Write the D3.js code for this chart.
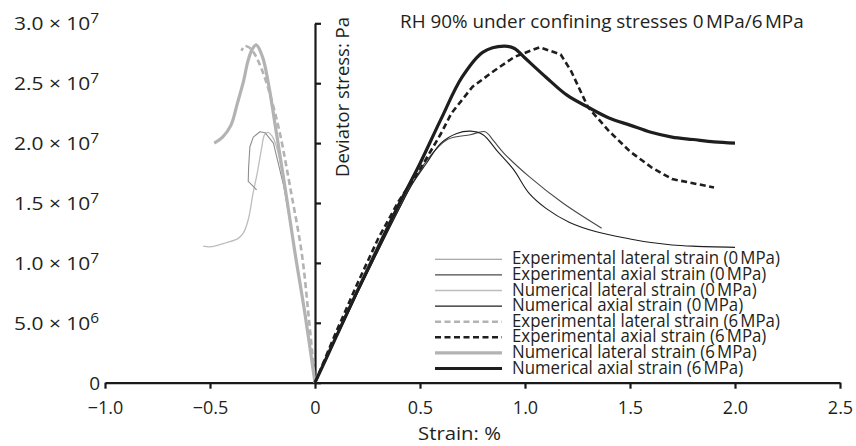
<!DOCTYPE html>
<html><head><meta charset="utf-8">
<script src="https://cdn.jsdelivr.net/npm/d3@7"></script>
<style>
body{margin:0;background:#fff}
svg{display:block}
text{font-family:"Open Sans",sans-serif;fill:#231f20}
</style>
</head><body>
<svg id="chart" width="856" height="446"></svg>
<script>
// ---------------- data ----------------
const titleText = "RH 90% under confining stresses 0\u202FMPa/6\u202FMPa";
const xAxisTitle = "Strain: %";
const yAxisTitle = "Deviator stress: Pa";

const xTickValues = [-1, -0.5, 0, 0.5, 1, 1.5, 2, 2.5];
const xTickLabels = ["\u22121.0", "\u22120.5", "0", "0.5", "1.0", "1.5", "2.0", "2.5"];
const yTickValues = [0, 5e6, 1e7, 1.5e7, 2e7, 2.5e7, 3e7];
const yTickMantissa = ["0", "5.0", "1.0", "1.5", "2.0", "2.5", "3.0"];
const yTickExponent = ["", "6", "7", "7", "7", "7", "7"];

const seriesNames = [
  "Experimental lateral strain (0\u202FMPa)",
  "Experimental axial strain (0\u202FMPa)",
  "Numerical lateral strain (0\u202FMPa)",
  "Numerical axial strain (0\u202FMPa)",
  "Experimental lateral strain (6\u202FMPa)",
  "Experimental axial strain (6\u202FMPa)",
  "Numerical lateral strain (6\u202FMPa)",
  "Numerical axial strain (6\u202FMPa)"
];

// strain in %, deviator stress in Pa
const expLat0Strain = [0, -0.05, -0.095, -0.15, -0.198, -0.238, -0.262, -0.294, -0.31, -0.316, -0.318, -0.3, -0.278];
const expLat0Stress = [0, 0.62e7, 1.1e7, 1.65e7, 2.0e7, 2.087e7, 2.095e7, 2.05e7, 1.97e7, 1.8e7, 1.68e7, 1.65e7, 1.61e7];

const expAx0Strain = [0, 0.1, 0.2, 0.3, 0.4, 0.46, 0.53, 0.63, 0.74, 0.81, 0.85, 0.9, 1.02, 1.18, 1.365];
const expAx0Stress = [0, 0.37e7, 0.74e7, 1.1e7, 1.45e7, 1.65e7, 1.85e7, 2.03e7, 2.07e7, 2.095e7, 2.02e7, 1.915e7, 1.72e7, 1.5e7, 1.29e7];

const numLat0Strain = [0, -0.05, -0.095, -0.14, -0.18, -0.205, -0.225, -0.24, -0.255, -0.275, -0.294, -0.318, -0.341, -0.365, -0.42, -0.492, -0.533];
const numLat0Stress = [0, 0.6e7, 1.08e7, 1.58e7, 1.95e7, 2.06e7, 2.09e7, 2.07e7, 1.95e7, 1.75e7, 1.59e7, 1.36e7, 1.25e7, 1.205e7, 1.17e7, 1.135e7, 1.14e7];

const numAx0Strain = [0, 0.1, 0.2, 0.3, 0.4, 0.46, 0.53, 0.6, 0.675, 0.74, 0.8, 0.865, 0.945, 1.02, 1.1, 1.21, 1.34, 1.5, 1.6, 1.7, 1.8, 2.0];
const numAx0Stress = [0, 0.37e7, 0.74e7, 1.1e7, 1.45e7, 1.65e7, 1.83e7, 2.0e7, 2.08e7, 2.1e7, 2.07e7, 1.94e7, 1.78e7, 1.58e7, 1.455e7, 1.34e7, 1.26e7, 1.2e7, 1.17e7, 1.15e7, 1.14e7, 1.13e7];

const expLat6Strain = [0, -0.03, -0.063, -0.115, -0.167, -0.21, -0.25, -0.29, -0.315, -0.335, -0.35];
const expLat6Stress = [0, 0.55e7, 1.08e7, 1.6e7, 2.08e7, 2.38e7, 2.6e7, 2.75e7, 2.8e7, 2.81e7, 2.77e7];

const expAx6Strain = [0, 0.1, 0.2, 0.3, 0.4, 0.5, 0.6, 0.65, 0.75, 0.85, 0.95, 1.07, 1.17, 1.22, 1.3, 1.4, 1.5, 1.6, 1.7, 1.9];
const expAx6Stress = [0, 0.42e7, 0.82e7, 1.2e7, 1.52e7, 1.78e7, 2.08e7, 2.25e7, 2.47e7, 2.6e7, 2.72e7, 2.8e7, 2.74e7, 2.6e7, 2.3e7, 2.1e7, 1.93e7, 1.8e7, 1.7e7, 1.63e7];

const numLat6Strain = [0, -0.05, -0.095, -0.14, -0.187, -0.22, -0.25, -0.28, -0.3, -0.32, -0.34, -0.37, -0.4, -0.44, -0.48];
const numLat6Stress = [0, 0.6e7, 1.08e7, 1.6e7, 2.12e7, 2.48e7, 2.72e7, 2.82e7, 2.78e7, 2.68e7, 2.52e7, 2.33e7, 2.15e7, 2.05e7, 2.0e7];

const numAx6Strain = [0, 0.1, 0.2, 0.3, 0.4, 0.5, 0.6, 0.7, 0.8, 0.9, 0.95, 1.0, 1.1, 1.2, 1.3, 1.4, 1.5, 1.6, 1.7, 1.8, 1.9, 2.0];
const numAx6Stress = [0, 0.38e7, 0.76e7, 1.13e7, 1.49e7, 1.83e7, 2.2e7, 2.55e7, 2.76e7, 2.81e7, 2.79e7, 2.71e7, 2.55e7, 2.4e7, 2.3e7, 2.21e7, 2.15e7, 2.09e7, 2.05e7, 2.03e7, 2.01e7, 2.0e7];

const seriesStrain = [expLat0Strain, expAx0Strain, numLat0Strain, numAx0Strain, expLat6Strain, expAx6Strain, numLat6Strain, numAx6Strain];
const seriesStress = [expLat0Stress, expAx0Stress, numLat0Stress, numAx0Stress, expLat6Stress, expAx6Stress, numLat6Stress, numAx6Stress];

// ---------------- styles ----------------
const styles = [
  {color: "#8e8e8e", width: 1.1, dash: null, smooth: false},
  {color: "#4a4a4a", width: 1.1, dash: null, smooth: true},
  {color: "#bdbdbd", width: 1.3, dash: null, smooth: true},
  {color: "#1e1e1e", width: 1.1, dash: null, smooth: true},
  {color: "#b3b3b3", width: 2.6, dash: "6,3.5", smooth: true},
  {color: "#1e1e1e", width: 2.6, dash: "6,3.5", smooth: false},
  {color: "#b3b3b3", width: 3.2, dash: null, smooth: true},
  {color: "#1e1e1e", width: 3.2, dash: null, smooth: true}
];
const drawOrder = [2, 0, 6, 4, 1, 3, 5, 7];

// ---------------- chart ----------------
const svg = d3.select("#chart");
const x = d3.scaleLinear().domain([-1, 2.5]).range([105, 840]);
const y = d3.scaleLinear().domain([0, 3e7]).range([382.7, 23.3]);
const FS = 18;

// x axis
const xAxis = d3.axisBottom(x).tickValues(xTickValues).tickSize(6).tickSizeOuter(0)
  .tickPadding(13).tickFormat((d, i) => xTickLabels[i]);
const gx = svg.append("g").attr("transform", `translate(0,${y(0)})`).call(xAxis);
gx.select(".domain").attr("stroke", "#1a1a1a").attr("stroke-width", 2.2);
gx.selectAll(".tick line").attr("stroke", "#1a1a1a").attr("stroke-width", 2.2);
gx.selectAll(".tick text").attr("font-size", FS).attr("font-family", "Open Sans").attr("fill", "#231f20");

// y axis (drawn at strain = 0)
const yAxis = d3.axisRight(y).tickValues(yTickValues).tickSize(6).tickSizeOuter(0).tickFormat("");
const gy = svg.append("g").attr("transform", `translate(${x(0)},0)`).call(yAxis);
gy.select(".domain").attr("stroke", "#1a1a1a").attr("stroke-width", 2.2);
gy.selectAll(".tick line").attr("stroke", "#1a1a1a").attr("stroke-width", 2.2);

// y tick labels on the far left
const yl = svg.append("g").selectAll("text").data(yTickValues).join("text")
  .attr("text-anchor", "end").attr("font-size", 19);
yl.each(function(d, i) {
  const t = d3.select(this);
  if (yTickExponent[i] === "") {
    t.text(yTickMantissa[i]).attr("x", 100).attr("y", y(d) + 7);
    return;
  }
  t.append("tspan").text(yTickMantissa[i] + " \u00D7 10");
  t.append("tspan").attr("dy", -7).attr("font-size", 14).text(yTickExponent[i]);
  const w = this.getComputedTextLength();
  const f = 85 / w;
  t.attr("x", 0).attr("y", 0)
   .attr("transform", `translate(99,${y(d) + 7}) scale(${f},1)`);
});

// helper to fit a text element horizontally to a target width
function fitText(sel, px, py, target, rotate) {
  const w = sel.node().getComputedTextLength();
  const f = target / w;
  sel.attr("x", 0).attr("y", 0)
     .attr("transform", `translate(${px},${py})${rotate ? " rotate(-90)" : ""} scale(${f},1)`);
}

// titles
const tt = svg.append("text").attr("font-size", FS).text(titleText);
fitText(tt, 400, 28.3, 404);
const xt = svg.append("text").attr("font-size", FS).text(xAxisTitle);
fitText(xt, 418, 440, 83);
const yt = svg.append("text").attr("font-size", FS).text(yAxisTitle);
fitText(yt, 349, 177, 160, true);

// data lines
const line = d3.line().x(d => x(d[0])).y(d => y(d[1]));
const plot = svg.append("g");
drawOrder.forEach(i => {
  const pts = seriesStrain[i].map((s, k) => [s, seriesStress[i][k]]);
  const st = styles[i];
  plot.append("path")
    .attr("d", line.curve(st.smooth ? d3.curveCatmullRom.alpha(0.5) : d3.curveLinear)(pts))
    .attr("fill", "none")
    .attr("stroke", st.color)
    .attr("stroke-width", st.width)
    .attr("stroke-dasharray", st.dash)
    .attr("stroke-linejoin", "round");
});

// legend
const lg = svg.append("g");
const rowY = i => 259.3 + i * 15.6;
const items = lg.selectAll("g").data(seriesNames).join("g");
items.append("line")
  .attr("x1", 435).attr("x2", 502)
  .attr("y1", (d, i) => rowY(i)).attr("y2", (d, i) => rowY(i))
  .attr("stroke", (d, i) => styles[i].color)
  .attr("stroke-width", (d, i) => styles[i].width)
  .attr("stroke-dasharray", (d, i) => styles[i].dash);
const lt = items.append("text").attr("font-size", FS).text(d => d);
const w0 = lt.nodes()[0].getComputedTextLength();
const lf = 268 / w0;
lt.attr("x", 0).attr("y", 0)
  .attr("transform", (d, i) => `translate(512,${rowY(i) + 5}) scale(${lf},1)`);
</script>
</body></html>
